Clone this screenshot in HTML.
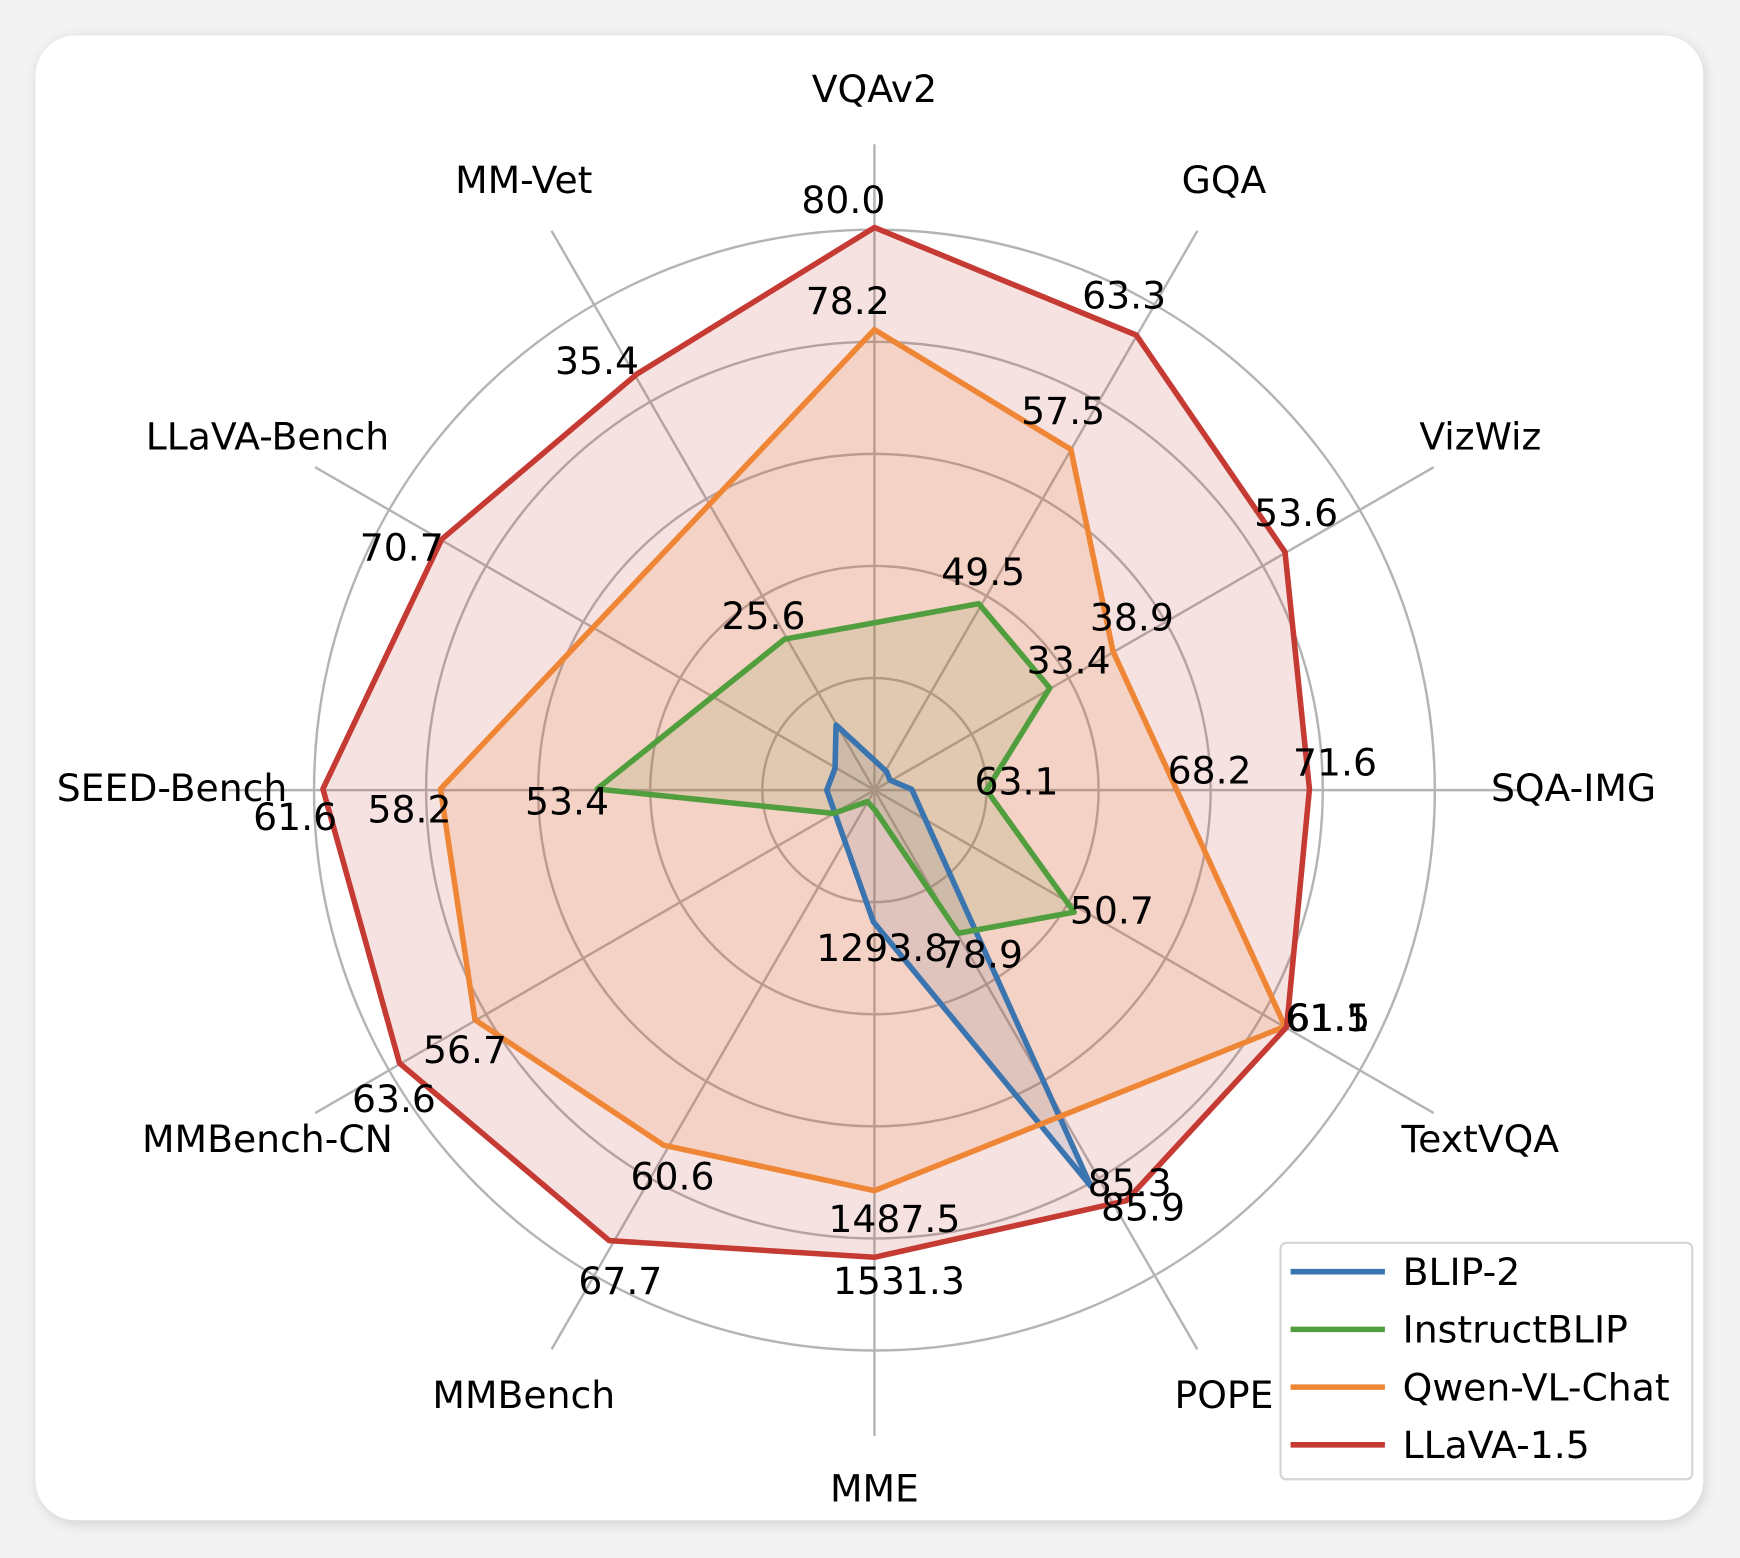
<!DOCTYPE html>
<html><head><meta charset="utf-8"><style>
html,body{margin:0;padding:0;background:#efefef;}
svg{display:block;}
text{font-family:"DejaVu Sans","Liberation Sans",sans-serif;font-size:34px;fill:#000;}
</style></head><body>
<svg width="1740" height="1558" viewBox="0 0 1568 1404" xmlns="http://www.w3.org/2000/svg">
<defs><filter id="sh" x="-5%" y="-5%" width="110%" height="110%"><feGaussianBlur stdDeviation="6"/></filter></defs>
<rect x="0" y="0" width="1568" height="1404" fill="#f3f3f3"/>
<rect x="34" y="35" width="1502" height="1338" rx="36" fill="#cfcfcf" filter="url(#sh)"/>
<rect x="32" y="32" width="1503" height="1338" rx="36" fill="#fff"/>
<g stroke="#b4b4b4" stroke-width="2.2" fill="none">
<circle cx="788" cy="712" r="101"/><circle cx="788" cy="712" r="202"/><circle cx="788" cy="712" r="303"/><circle cx="788" cy="712" r="404"/><circle cx="788" cy="712" r="505"/>
<line x1="788" y1="712" x2="788" y2="130"/>
<line x1="788" y1="712" x2="1079" y2="208"/>
<line x1="788" y1="712" x2="1292" y2="421"/>
<line x1="788" y1="712" x2="1370" y2="712"/>
<line x1="788" y1="712" x2="1292" y2="1003"/>
<line x1="788" y1="712" x2="1079" y2="1216"/>
<line x1="788" y1="712" x2="788" y2="1294"/>
<line x1="788" y1="712" x2="497" y2="1216"/>
<line x1="788" y1="712" x2="284" y2="1003"/>
<line x1="788" y1="712" x2="206" y2="712"/>
<line x1="788" y1="712" x2="284" y2="421"/>
<line x1="788" y1="712" x2="497" y2="208"/>
</g>
<g stroke="none">
<polygon points="799,695.4 802,703 821.6,711.3 983,1069 787,830.6 745,712 752.5,692.4 753.4,653.3" fill="rgba(58,117,175,0.15)"/>
<polygon points="882,544 946,620 889,712 968,822 863.6,841 788.5,730 781.6,722.4 751,733 538,711 707,576" fill="rgba(81,158,62,0.15)"/>
<polygon points="788,297 965,405 1003,587 1060,711 1158,925 788,1073 598,1032 428,919 397,711" fill="rgba(239,134,54,0.15)"/>
<polygon points="788,205 1024,302 1158,497.5 1180,711 1159.5,925.5 1015,1082 788,1133 549,1118 360,958 291,711 398,486 574,337" fill="rgba(197,58,50,0.15)"/>
</g>
<g stroke-width="5" stroke-linejoin="round" fill="none">
<polygon points="799,695.4 802,703 821.6,711.3 983,1069 787,830.6 745,712 752.5,692.4 753.4,653.3" stroke="#3a75af"/>
<polygon points="882,544 946,620 889,712 968,822 863.6,841 788.5,730 781.6,722.4 751,733 538,711 707,576" stroke="#519e3e"/>
<polygon points="788,297 965,405 1003,587 1060,711 1158,925 788,1073 598,1032 428,919 397,711" stroke="#ef8636"/>
<polygon points="788,205 1024,302 1158,497.5 1180,711 1159.5,925.5 1015,1082 788,1133 549,1118 360,958 291,711 398,486 574,337" stroke="#c53a32"/>
</g>
<g text-anchor="middle">
<text x="788" y="92">VQAv2</text>
<text x="1103" y="174">GQA</text>
<text x="1334" y="405">VizWiz</text>
<text x="1418" y="722">SQA-IMG</text>
<text x="1334" y="1038">TextVQA</text>
<text x="1103" y="1269">POPE</text>
<text x="788" y="1353">MME</text>
<text x="472" y="1269">MMBench</text>
<text x="241" y="1038">MMBench-CN</text>
<text x="155" y="722">SEED-Bench</text>
<text x="241" y="405">LLaVA-Bench</text>
<text x="472" y="174">MM-Vet</text>

<text x="760" y="192">80.0</text>
<text x="764" y="283">78.2</text>
<text x="1013" y="278">63.3</text>
<text x="958" y="382">57.5</text>
<text x="1168" y="474">53.6</text>
<text x="886" y="527">49.5</text>
<text x="1020" y="568">38.9</text>
<text x="963" y="607">33.4</text>
<text x="688" y="567">25.6</text>
<text x="538" y="337">35.4</text>
<text x="362" y="505">70.7</text>
<text x="1203" y="699">71.6</text>
<text x="1090" y="706">68.2</text>
<text x="916" y="716">63.1</text>
<text x="369" y="741">58.2</text>
<text x="511" y="734">53.4</text>
<text x="266" y="748">61.6</text>
<text x="1002" y="832">50.7</text>
<text x="795" y="866">1293.8</text>
<text x="884" y="872">78.9</text>
<text x="1196" y="929">61.1</text>
<text x="1197" y="929">61.5</text>
<text x="419" y="958">56.7</text>
<text x="355" y="1002">63.6</text>
<text x="606" y="1072">60.6</text>
<text x="1018" y="1078">85.3</text>
<text x="1030" y="1100">85.9</text>
<text x="806" y="1110">1487.5</text>
<text x="810" y="1166">1531.3</text>
<text x="559" y="1166">67.7</text>
</g>
<rect x="1154" y="1120" width="371" height="213" rx="5" fill="rgba(255,255,255,0.85)" stroke="#d6d6d6" stroke-width="2"/>
<g stroke-width="5">
<line x1="1163" y1="1146" x2="1248" y2="1146" stroke="#3a75af"/>
<line x1="1163" y1="1198" x2="1248" y2="1198" stroke="#519e3e"/>
<line x1="1163" y1="1250" x2="1248" y2="1250" stroke="#ef8636"/>
<line x1="1163" y1="1302" x2="1248" y2="1302" stroke="#c53a32"/>
</g>
<text x="1264" y="1158">BLIP-2</text>
<text x="1264" y="1210">InstructBLIP</text>
<text x="1264" y="1262">Qwen-VL-Chat</text>
<text x="1264" y="1314">LLaVA-1.5</text>
</svg>
</body></html>
